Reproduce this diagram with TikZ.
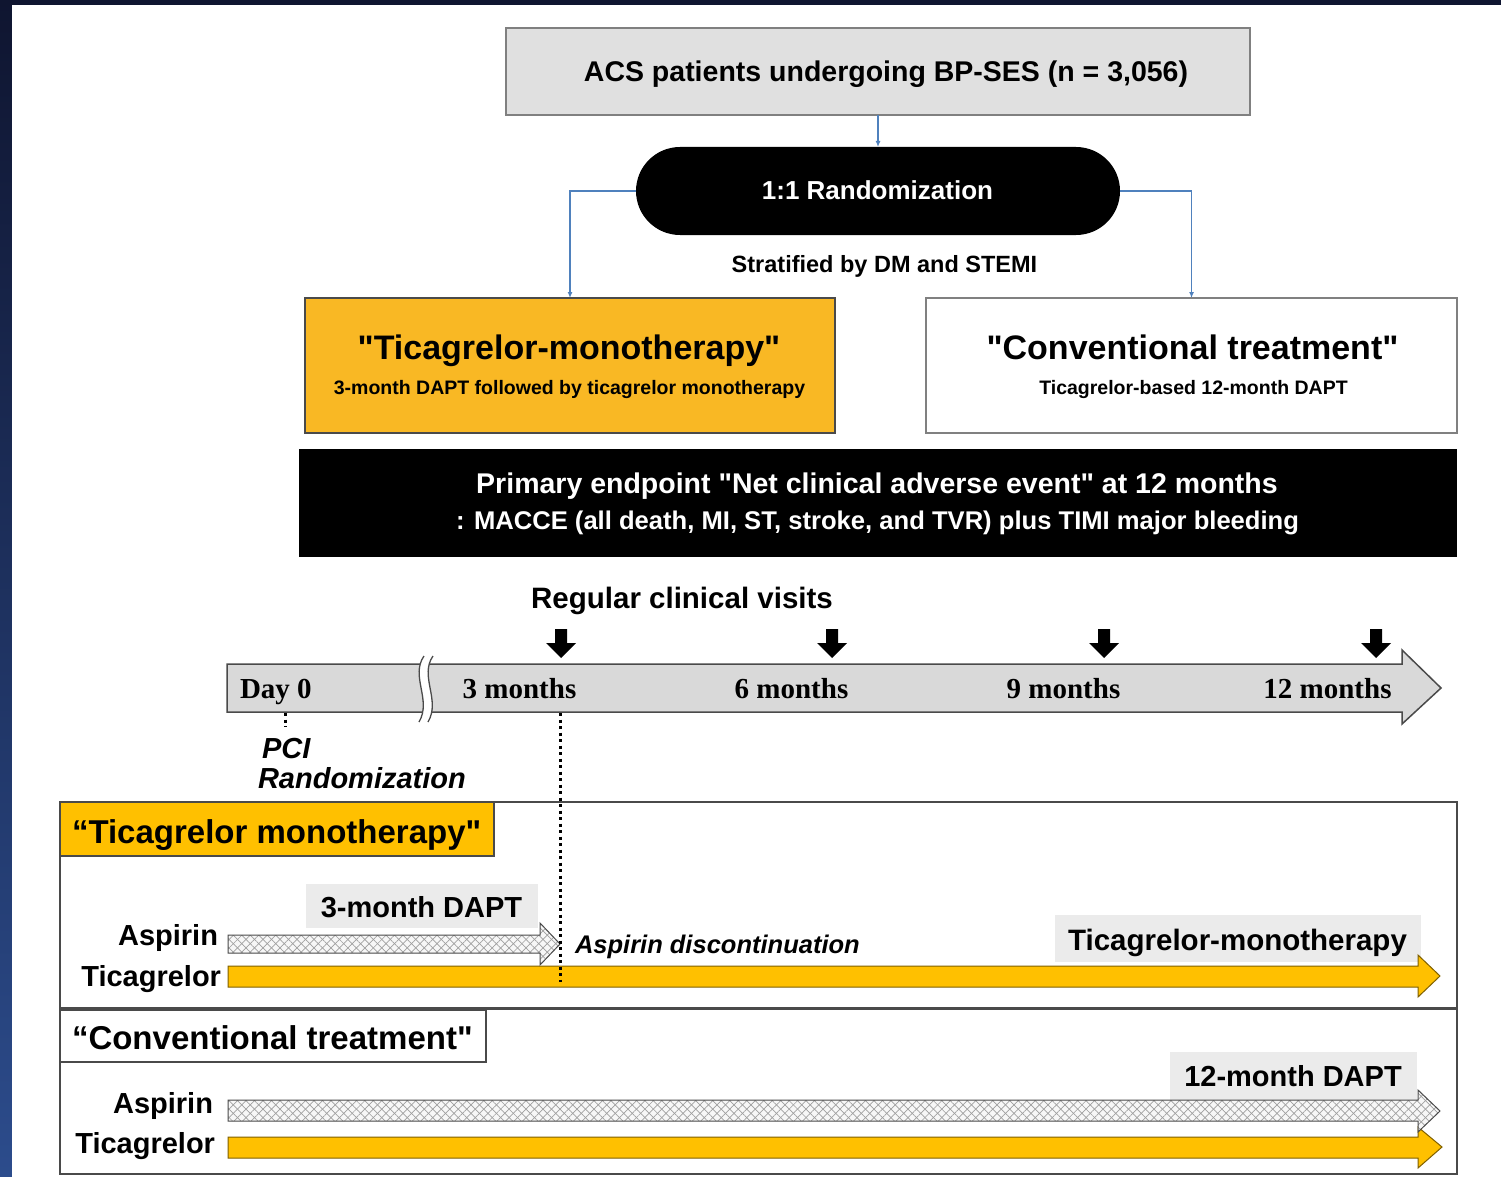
\documentclass[tikz,border=0pt]{standalone}
\usepackage{fontspec}
\setmainfont{Liberation Sans}[Ligatures=TeXOff]
\newfontfamily\tnr{Liberation Serif}[Ligatures=TeXOff]
\usetikzlibrary{arrows.meta,patterns.meta}
\definecolor{navyA}{HTML}{0F1530}
\definecolor{navyB}{HTML}{2C4C8C}
\definecolor{conn}{HTML}{4F81BD}
\definecolor{orbox}{HTML}{F9B824}
\definecolor{yel}{HTML}{FFC000}
\definecolor{yelb}{HTML}{7F6000}
\definecolor{lgrey}{HTML}{E0E0E0}
\definecolor{lbl}{HTML}{EBEBEB}
\definecolor{tlfill}{HTML}{D9D9D9}
\definecolor{bdr}{HTML}{4A4A4A}
\definecolor{mgrey}{HTML}{808080}
\newcommand\fsz[1]{\fontsize{#1}{#1}\selectfont\bfseries}
\begin{document}
\begin{tikzpicture}[x=1pt,y=-1pt,
  every node/.style={inner sep=0pt,outer sep=0pt},
  txt/.style={anchor=base},
  connline/.style={draw=conn,line width=1.3pt,-{Latex[length=6pt,width=5pt]}},
  hatched/.style={draw=bdr,line width=1pt,
    preaction={fill=gray!6},
    preaction={pattern={Lines[angle=45,distance=6pt,line width=0.7pt]},pattern color=gray!75},
    pattern={Lines[angle=-45,distance=6pt,line width=0.7pt]},pattern color=gray!75},
  yelarrow/.style={draw=yelb,fill=yel,line width=1pt},
  lblbox/.style={fill=lbl},
  downarr/.style={fill=black}
]
\useasboundingbox (0,0) rectangle (1501,1177);
\shade[top color=navyA,bottom color=navyB] (0,0) rectangle (1501,1177);
\fill[white] (12,5) rectangle (1501,1177);

% ---------- top flow ----------
\node[draw=mgrey,line width=1.5pt,fill=lgrey,minimum width=744pt,minimum height=87pt] (acs) at (878,71.5) {};
\node[txt] (acst) at (886,82) {\fsz{28.5}ACS patients undergoing BP-SES (n = 3,056)};

\node[fill=black,rounded corners=44pt,minimum width=484pt,minimum height=88pt] (pill) at (878,191) {};
\node[txt,text=white] (pillt) at (877.5,200) {\fsz{26}1:1 Randomization};

\node[txt] (strat) at (884.5,272.5) {\fsz{23.5}Stratified by DM and STEMI};

\node[draw=bdr,line width=1.5pt,fill=orbox,minimum width=530pt,minimum height=135pt] (mono) at (570,365.5) {};
\node[txt] (monot) at (569,359) {\fsz{34}"Ticagrelor-monotherapy"};
\node[txt] (monos) at (569.5,394) {\fsz{19.5}3-month DAPT followed by ticagrelor monotherapy};

\node[draw=mgrey,line width=1.5pt,fill=white,minimum width=531pt,minimum height=135pt] (conv) at (1191.5,365.5) {};
\node[txt] (convt) at (1192.5,359) {\fsz{34}"Conventional treatment"};
\node[txt] (convs) at (1193.5,394) {\fsz{19.5}Ticagrelor-based 12-month DAPT};

\draw[connline] (acs.south) -- (pill.north);
\draw[connline] (pill.west) -| (mono.north);
\draw[connline] (pill.east) -| (conv.north);

\node[fill=black,minimum width=1158pt,minimum height=108pt] (prim) at (878,503) {};
\node[txt,text=white] (primt) at (877,493) {\fsz{28.5}Primary endpoint "Net clinical adverse event" at 12 months};
\node[txt,text=white] (prims) at (877.5,529) {\fsz{25.6}: MACCE (all death, MI, ST, stroke, and TVR) plus TIMI major bleeding};

% ---------- timeline ----------
\node[txt] (visits) at (682,608.5) {\fsz{29.5}Regular clinical visits};
\foreach \x in {561,832,1104,1376}
  \fill[downarr] (\x-6,629) -- (\x+6,629) -- (\x+6,643) -- (\x+15,643) -- (\x,658) -- (\x-15,643) -- (\x-6,643) -- cycle;

\draw[draw=bdr,fill=tlfill,line width=1.5pt,line join=miter]
  (227,664) -- (1402,664) -- (1402,650) -- (1441,688) -- (1402,724) -- (1402,712) -- (227,712) -- cycle;
\fill[white] (424,656) .. controls (410,676) and (432,700) .. (419,722) -- (428,722) .. controls (441,700) and (419,676) .. (433,656) -- cycle;
\draw[bdr,line width=1.3pt] (424,656) .. controls (410,676) and (432,700) .. (419,722);
\draw[bdr,line width=1.3pt] (433,656) .. controls (419,676) and (441,700) .. (428,722);

\node[anchor=base west] (d0) at (240,698.5) {\tnr\fsz{29}Day 0};
\node[txt] (m3) at (519.5,698.5) {\tnr\fsz{29}3 months};
\node[txt] (m6) at (791.5,698.5) {\tnr\fsz{29}6 months};
\node[txt] (m9) at (1063.5,698.5) {\tnr\fsz{29}9 months};
\node[txt] (m12) at (1327.5,698.5) {\tnr\fsz{29}12 months};

\draw[line width=3pt,dash pattern=on 3pt off 3.5pt] (285,713) -- (285,727);
\node[anchor=base west] (pci) at (262,758.5) {\fsz{29}\itshape PCI};
\node[anchor=base west] (rnd) at (258,788.5) {\fsz{29}\itshape Randomization};

% ---------- panels ----------
\node[draw=bdr,line width=1.5pt,minimum width=1397pt,minimum height=206pt] (panA) at (758.5,905) {};
\node[draw=bdr,line width=1.5pt,minimum width=1397pt,minimum height=165pt] (panB) at (758.5,1091.5) {};

\node[draw=bdr,line width=1.5pt,fill=yel,minimum width=434pt,minimum height=54pt] (labA) at (277,829) {};
\node[anchor=base west] (labAt) at (72,843) {\fsz{33}“Ticagrelor monotherapy"};

\node[draw=bdr,line width=1.5pt,fill=white,minimum width=426pt,minimum height=52pt] (labB) at (273,1036) {};
\node[anchor=base west] (labBt) at (72,1049) {\fsz{33}“Conventional treatment"};

% grey labels
\node[lblbox,minimum width=232pt,minimum height=44pt] (dapt3) at (422,906) {};
\node[txt] (dapt3t) at (421.5,917.5) {\fsz{29}3-month DAPT};
\node[lblbox,minimum width=366pt,minimum height=47pt] (tmono) at (1238,938.5) {};
\node[txt] (tmonot) at (1237.5,950.5) {\fsz{29.5}Ticagrelor-monotherapy};
\node[lblbox,minimum width=247pt,minimum height=48pt] (dapt12) at (1293.5,1076) {};
\node[txt] (dapt12t) at (1293,1086.5) {\fsz{29}12-month DAPT};

% drug labels
\node[anchor=base east] (aspA) at (218,945.5) {\fsz{29}Aspirin};
\node[anchor=base east] (ticA) at (221,986.5) {\fsz{29}Ticagrelor};
\node[anchor=base east] (aspB) at (213,1113.5) {\fsz{29}Aspirin};
\node[anchor=base east] (ticB) at (215,1153.5) {\fsz{29}Ticagrelor};

% arrows panel A
\draw[yelarrow] (228,966) -- (1418,966) -- (1418,955) -- (1440,976) -- (1418,997) -- (1418,987) -- (228,987) -- cycle;
\draw[hatched] (228,935) -- (540,935) -- (540,923) -- (560,944) -- (540,965) -- (540,953) -- (228,953) -- cycle;
\node[anchor=base west] (disc) at (575,953) {\fsz{25.5}\itshape Aspirin discontinuation};
\draw[line width=3pt,dash pattern=on 3pt off 3.5pt] (560,713) -- (560,982);

% arrows panel B
\draw[yelarrow] (228,1137) -- (1418,1137) -- (1418,1127) -- (1442,1147) -- (1418,1168) -- (1418,1158) -- (228,1158) -- cycle;
\draw[hatched] (228,1100) -- (1418,1100) -- (1418,1090) -- (1440,1111) -- (1418,1132) -- (1418,1121) -- (228,1121) -- cycle;
\end{tikzpicture}
\end{document}
